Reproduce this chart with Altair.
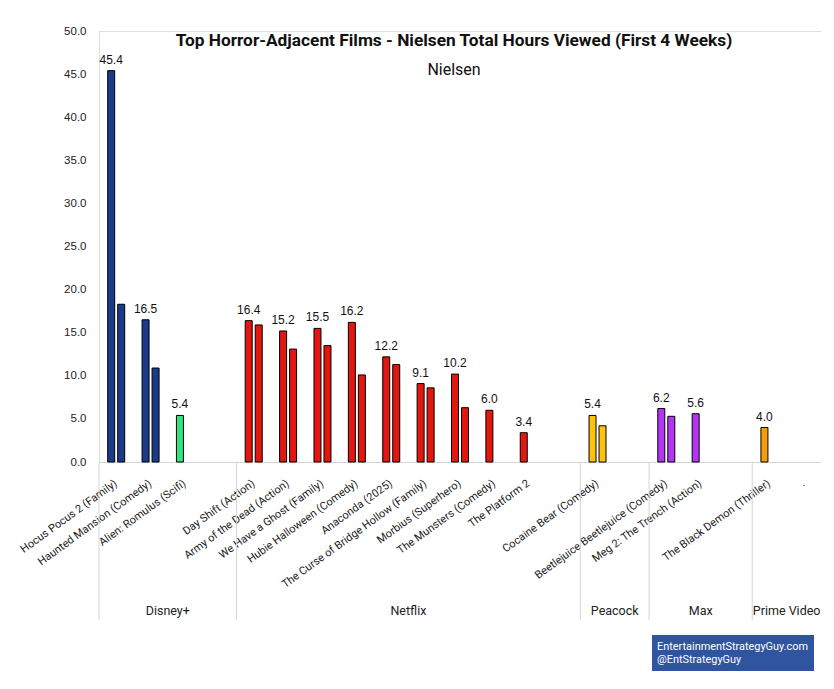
import altair as alt
import pandas as pd

# ---- data ----
films = [
    "Hocus Pocus 2 (Family)", "Haunted Mansion (Comedy)", "Alien: Romulus (Scifi)", " ",
    "Day Shift (Action)", "Army of the Dead (Action)", "We Have a Ghost (Family)",
    "Hubie Halloween (Comedy)", "Anaconda (2025)", "The Curse of Bridge Hollow (Family)",
    "Morbius (Superhero)", "The Munsters (Comedy)", "The Platform 2", "  ",
    "Cocaine Bear (Comedy)", "   ",
    "Beetlejuice Beetlejuice (Comedy)", "Meg 2: The Trench (Action)", "    ",
    "The Black Demon (Thriller)", ".",
]
brands = [
    "Disney+", "Disney+", "Hulu", "Disney+",
    "Netflix", "Netflix", "Netflix", "Netflix", "Netflix", "Netflix", "Netflix", "Netflix", "Netflix", "Netflix",
    "Peacock", "Peacock",
    "Max", "Max", "Max",
    "Prime Video", "Prime Video",
]
series_a = [45.4, 16.5, 5.4, None, 16.4, 15.2, 15.5, 16.2, 12.2, 9.1, 10.2, 6.0, 3.4, None,
            5.4, None, 6.2, 5.6, None, 4.0, None]
series_b = [18.3, 10.9, None, None, 15.9, 13.1, 13.5, 10.1, 11.3, 8.6, 6.3, None, None, None,
            4.2, None, 5.3, None, None, None, None]

groups = ["Disney+", "Netflix", "Peacock", "Max", "Prime Video"]
group_sizes = [4, 10, 2, 3, 2]

brand_domain = ["Disney+", "Hulu", "Netflix", "Peacock", "Max", "Prime Video"]
brand_colors = ["#1c3a8a", "#2ee67f", "#e3170f", "#fdc20e", "#b535f5", "#f59e0b"]

credit_lines = ["EntertainmentStrategyGuy.com", "@EntStrategyGuy"]

rows = []
for f, b, a, c in zip(films, brands, series_a, series_b):
    if a is not None:
        rows.append({"film": f, "brand": b, "series": "A", "value": a})
    if c is not None:
        rows.append({"film": f, "brand": b, "series": "B", "value": c})
df = pd.DataFrame(rows)
gdf = pd.DataFrame({"group": groups, "n": group_sizes, "order": list(range(len(groups)))})

W, H = 722, 431
NARROW = "Roboto, sans-serif"
ARIAL = "Liberation Sans, Arial, sans-serif"

xscale = alt.Scale(domain=films, paddingInner=0, paddingOuter=0)
xoff = alt.XOffset("series:N", scale=alt.Scale(domain=["A", "B"], paddingInner=0.3, paddingOuter=0.869))
yenc = alt.Y("value:Q", scale=alt.Scale(domain=[0, 50], nice=False),
             axis=alt.Axis(values=[0, 5, 10, 15, 20, 25, 30, 35, 40, 45, 50], format=".1f",
                           grid=False, domain=False, ticks=False, labelPadding=13,
                           labelFont=ARIAL, labelFontSize=11.5, labelColor="#222", title=None))

base = alt.Chart(df)

bars = base.mark_bar(stroke="black", strokeWidth=1).encode(
    x=alt.X("film:N", scale=xscale, sort=films,
            axis=alt.Axis(title=None, labelAngle=-36, labelAlign="right", labelBaseline="middle",
                          ticks=False, domainColor="#d4d4d4", labelPadding=20, labelOverlap=False,
                          labelLimit=400, labelFont=NARROW, labelFontSize=11, labelColor="#222")),
    xOffset=xoff,
    y=yenc,
    color=alt.Color("brand:N", scale=alt.Scale(domain=brand_domain, range=brand_colors), legend=None),
)

labels = base.transform_filter(alt.datum.series == "A").mark_text(
    baseline="alphabetic", dy=-7, font=ARIAL, fontSize=12, color="#111"
).encode(
    x=alt.X("film:N", scale=xscale, sort=films),
    xOffset=xoff,
    y=alt.Y("value:Q"),
    text=alt.Text("value:Q", format=".1f"),
)

layer_main = alt.layer(bars, labels)

gbase = alt.Chart(gdf).transform_window(
    end="sum(n)", sort=[alt.SortField("order")], frame=[None, 0]
).transform_calculate(
    start="datum.end - datum.n", mid="datum.end - datum.n / 2"
)
gx = alt.Scale(domain=[0, sum(group_sizes)], nice=False, zero=False)

dividers = gbase.mark_rule(color="#d4d4d4", strokeWidth=1).encode(
    x=alt.X("start:Q", scale=gx, axis=None),
    y=alt.value(H), y2=alt.value(H + 158),
)
glabels = gbase.mark_text(font=NARROW, fontSize=12.5, color="#222", baseline="middle").encode(
    x=alt.X("mid:Q", scale=gx, axis=None),
    y=alt.value(H + 149),
    text="group:N",
)

box = alt.Chart(pd.DataFrame({"t": [0]})).mark_rect(color="#2f54a0").encode(
    x=alt.value(553), x2=alt.value(715), y=alt.value(604), y2=alt.value(640)
)
box_text = alt.Chart(pd.DataFrame({"line": credit_lines, "k": [0, 1]})).mark_text(
    font=NARROW, fontSize=10.9, color="white", align="left", baseline="alphabetic"
).encode(
    x=alt.value(558),
    y=alt.Y("k:Q", scale=alt.Scale(domain=[0, 1], range=[619, 632]), axis=None),
    text="line:N",
)

chart = alt.layer(layer_main, dividers, glabels, box, box_text).resolve_scale(
    x="independent", y="independent"
).properties(
    width=W, height=H,
    padding={"left": 91, "top": 23, "right": 0, "bottom": 219},
    autosize=alt.AutoSizeParams(type="none"),
    title=alt.TitleParams(
        "Top Horror-Adjacent Films - Nielsen Total Hours Viewed (First 4 Weeks)",
        subtitle="Nielsen", anchor="middle", frame="group", offset=-53, dx=-6,
        font=NARROW, fontSize=17.3, fontWeight="bold", color="#111",
        subtitleFont=NARROW, subtitleFontSize=16, subtitleColor="#111", subtitlePadding=13,
    ),
).configure_view(stroke=None).configure(background="white")

chart.save("out.html", embed_options={"renderer": "svg", "actions": False})
